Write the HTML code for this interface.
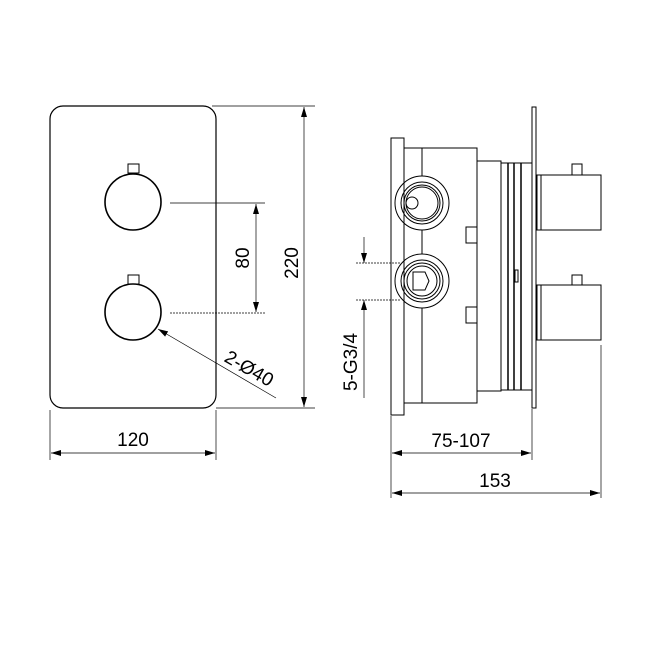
<!DOCTYPE html>
<html><head><style>body{margin:0;background:#fff}svg{display:block}</style></head>
<body>
<svg width="650" height="650" viewBox="0 0 650 650" xmlns="http://www.w3.org/2000/svg" font-family="Liberation Sans, sans-serif" fill="none" stroke="#000">
<defs>
<marker id="a" viewBox="0 0 10 6" refX="10" refY="3" markerWidth="10" markerHeight="6" orient="auto-start-reverse" markerUnits="userSpaceOnUse"><path d="M0,0L10,3L0,6z" fill="#000" stroke="none"/></marker>
</defs>
<rect x="50" y="106" width="166" height="302" rx="13" stroke-width="1.2"/>
<circle cx="133" cy="202" r="28" stroke-width="1.6"/>
<rect x="128" y="164" width="11" height="9" stroke-width="1"/>
<circle cx="133" cy="312" r="28" stroke-width="1.6"/>
<rect x="128" y="275" width="11" height="9" stroke-width="1"/>
<g stroke-width="0.7">
<line x1="170" y1="203" x2="265" y2="203"/>
<line x1="170" y1="313" x2="265" y2="313" stroke-dasharray="2,1"/>
<line x1="256" y1="204" x2="256" y2="312" marker-start="url(#a)" marker-end="url(#a)"/>
<line x1="212" y1="106" x2="315" y2="106"/>
<line x1="216" y1="408" x2="315" y2="408"/>
<line x1="304" y1="107" x2="304" y2="407" marker-start="url(#a)" marker-end="url(#a)"/>
<line x1="276" y1="398" x2="158" y2="329" marker-end="url(#a)"/>
<line x1="50" y1="410" x2="50" y2="460"/>
<line x1="216" y1="410" x2="216" y2="460"/>
<line x1="51" y1="453" x2="215" y2="453" marker-start="url(#a)" marker-end="url(#a)"/>
</g>
<g fill="#000" stroke="none" font-size="19">
<text x="0" y="0" transform="translate(249,258) rotate(-90)" text-anchor="middle">80</text>
<text x="0" y="0" transform="translate(298,263) rotate(-90)" text-anchor="middle">220</text>
<text x="0" y="0" transform="translate(246,374) rotate(30)" text-anchor="middle">2-Ø40</text>
<text x="133" y="446" text-anchor="middle">120</text>
<text x="0" y="0" transform="translate(357,362) rotate(-90)" text-anchor="middle">5-G3/4</text>
<text x="461" y="447" text-anchor="middle">75-107</text>
<text x="495" y="487" text-anchor="middle">153</text>
</g>
<g stroke-width="1">
<rect x="391" y="138" width="13" height="277"/>
<rect x="404" y="148" width="73" height="255"/>
<line x1="422" y1="148" x2="422" y2="176"/>
<line x1="422" y1="230" x2="422" y2="254"/>
<line x1="422" y1="308" x2="422" y2="403"/>
<rect x="477" y="161" width="24" height="230"/>
<rect x="501" y="163" width="31" height="227"/>
<line x1="508" y1="163" x2="508" y2="390" stroke-width="1.5"/>
<line x1="514" y1="163" x2="514" y2="390" stroke-width="1.5"/>
<line x1="521" y1="163" x2="521" y2="390" stroke-width="1.5"/>
<rect x="515" y="270" width="3" height="12"/>
<rect x="532" y="107" width="4" height="301"/>
<rect x="537" y="175" width="64" height="55"/>
<line x1="541" y1="175" x2="541" y2="230"/>
<rect x="572" y="164" width="10" height="11"/>
<rect x="537" y="285" width="64" height="55"/>
<line x1="541" y1="285" x2="541" y2="340"/>
<rect x="572" y="275" width="10" height="10"/>
<rect x="466" y="227" width="11" height="16"/>
<rect x="466" y="307" width="11" height="16"/>
<circle cx="422" cy="203" r="27"/><circle cx="422" cy="203" r="21"/><circle cx="422" cy="203" r="18"/><circle cx="422" cy="203" r="16"/>
<circle cx="412" cy="203" r="6"/>
<circle cx="422" cy="281" r="27"/><circle cx="422" cy="281" r="21"/><circle cx="422" cy="281" r="18"/><circle cx="422" cy="281" r="15"/>
<path d="M413,272h12l4,9l-4,9h-12z"/>
</g>
<g stroke-width="0.7">
<line x1="356" y1="263" x2="400" y2="263" stroke-dasharray="2,1"/>
<line x1="356" y1="300" x2="400" y2="300" stroke-dasharray="2,1"/>
<line x1="364" y1="237" x2="364" y2="263" marker-end="url(#a)"/>
<line x1="364" y1="398" x2="364" y2="300" marker-end="url(#a)"/>
<line x1="391" y1="416" x2="391" y2="498"/>
<line x1="532" y1="409" x2="532" y2="460"/>
<line x1="601" y1="345" x2="601" y2="498"/>
<line x1="392" y1="453" x2="531" y2="453" marker-start="url(#a)" marker-end="url(#a)"/>
<line x1="392" y1="493" x2="600" y2="493" marker-start="url(#a)" marker-end="url(#a)"/>
</g>
</svg>
</body></html>
